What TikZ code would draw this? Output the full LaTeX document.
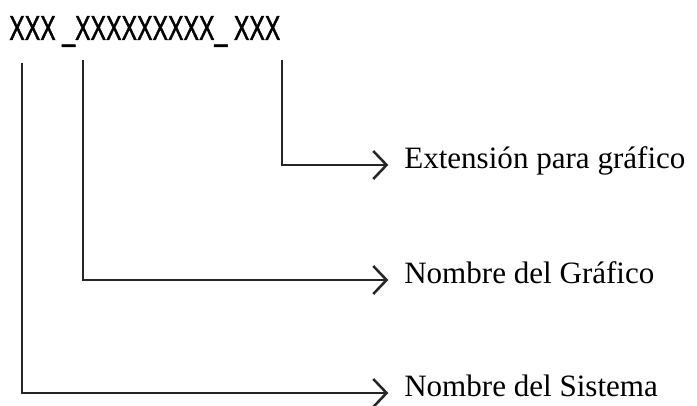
\documentclass[tikz,border=0pt]{standalone}
\usepackage{fontspec}
\setmainfont{Liberation Serif}
\newfontfamily\codefont[FakeStretch=0.67,FakeBold=1.2]{Liberation Sans}
\usetikzlibrary{positioning,arrows.meta}

\begin{document}
\begin{tikzpicture}[
        %Environment config
        x=0.75pt,y=-0.75pt,
        line width=1.9pt,
        %Environment styles
        CodeText/.style={font=\codefont\fontsize{26}{30}\selectfont, inner sep=0pt},
        LabelText/.style={font=\fontsize{23.3}{28}\selectfont, inner sep=0pt, anchor=mid west},
        Pointer/.style={draw=black!85, -{Straight Barb[length=10pt,width=21pt,line width=1.9pt]}, shorten >=11pt}
    ]
    \useasboundingbox (0,0) rectangle (697,406);
    \node[CodeText, anchor=base west] (code) at (8,40) {XXX \_XXXXXXXXX\_ XXX};
    % labels on the right
    \node[LabelText] (ext) at (403,165) {Extensión para gráfico};
    \node[LabelText] (graf) at (403,280) {Nombre del Gráfico};
    \node[LabelText] (sis) at (403,393) {Nombre del Sistema};
    % starts of the lines below the code
    \coordinate (sisTop) at (22,63);
    \coordinate (grafTop) at (83,60);
    \coordinate (extTop) at (282,60);

    \draw[Pointer] (extTop) |- (ext.mid west);
    \draw[Pointer] (grafTop) |- (graf.mid west);
    \draw[Pointer] (sisTop) |- (sis.mid west);
\end{tikzpicture}
\end{document}
